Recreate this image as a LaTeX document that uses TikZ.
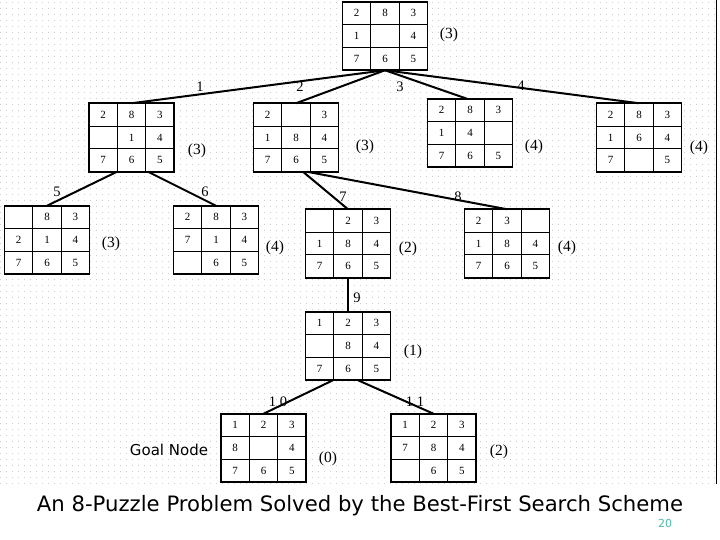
\documentclass[tikz,border=0pt]{standalone}
\usepackage{fontspec}
\setmainfont{Liberation Serif}
\newfontfamily\capfont{DejaVu Sans}
\usetikzlibrary{calc}
\definecolor{pagenum}{RGB}{70,190,170}
\newcommand\puz[4]{%
  \node[pbox] (#1) at (#2,#3) {};
  \draw[inner] ($(#1.north west)!1/3!(#1.north east)$) -- ($(#1.south west)!1/3!(#1.south east)$);
  \draw[inner] ($(#1.north west)!2/3!(#1.north east)$) -- ($(#1.south west)!2/3!(#1.south east)$);
  \draw[inner] ($(#1.north west)!1/3!(#1.south west)$) -- ($(#1.north east)!1/3!(#1.south east)$);
  \draw[inner] ($(#1.north west)!2/3!(#1.south west)$) -- ($(#1.north east)!2/3!(#1.south east)$);
  \foreach \v [count=\k from 0] in {#4} {
    \pgfmathtruncatemacro\rr{int(\k/3)}
    \pgfmathtruncatemacro\cc{mod(\k,3)}
    \node[num] (#1-\k) at ($(#1.north west)+({(\cc+0.5)*85/3},{(\rr+0.5)*68.5/3})$) {\v};
  }
}
\begin{document}
\begin{tikzpicture}[x=1pt,y=-1pt,
  pbox/.style={draw, fill=white, line width=1.7pt, minimum width=85pt, minimum height=68.5pt, inner sep=0pt, outer sep=0pt},
  inner/.style={line width=1pt},
  num/.style={font=\fontsize{11}{11}\selectfont, inner sep=0pt},
  edge/.style={line width=2pt},
  elab/.style={font=\fontsize{14.5}{14.5}\selectfont, inner sep=0pt},
  hlab/.style={font=\fontsize{15.5}{15.5}\selectfont, inner sep=0pt},
  dotrow/.style={gray!38, line width=1pt, dash pattern=on 1pt off 5pt}]
\useasboundingbox (0,0) rectangle (720,540);
\foreach \yy in {3,9,...,483} \draw[dotrow] (0,\yy) -- (716,\yy);
\draw[line width=1pt] (716,0) -- (716,484);
\puz{root}{385}{36}{2,8,3,1,,4,7,6,5}
\puz{A}{131.5}{137.5}{2,8,3,,1,4,7,6,5}
\puz{B}{296}{137.5}{2,,3,1,8,4,7,6,5}
\puz{C}{470}{133}{2,8,3,1,4,,7,6,5}
\puz{D}{639}{137.5}{2,8,3,1,6,4,7,,5}
\puz{E}{47}{240}{,8,3,2,1,4,7,6,5}
\puz{F}{216}{240}{2,8,3,7,1,4,,6,5}
\puz{G}{348}{243.5}{,2,3,1,8,4,7,6,5}
\puz{H}{507}{243.5}{2,3,,1,8,4,7,6,5}
\puz{I}{348}{346}{1,2,3,,8,4,7,6,5}
\puz{J}{263.5}{448}{1,2,3,8,,4,7,6,5}
\puz{K}{433.5}{448}{1,2,3,7,8,4,,6,5}
% edges
\draw[edge] (root.south) -- (A.north);
\draw[edge] (root.south) -- (B.north);
\draw[edge] (root.south) -- ($(C.north)+(-3,0)$);
\draw[edge] (root.south) -- (D.north);
\draw[edge] ($(A.south)+(-14.5,0)$) -- (E.north);
\draw[edge] ($(A.south)+(16.5,0)$) -- (F.north);
\draw[edge] ($(B.south)+(7,0)$) -- (G.north);
\draw[edge] ($(B.south)+(11,0)$) -- (H.north);
\draw[edge] (G.south) -- (I.north);
\draw[edge] ($(I.south)+(-15,0)$) -- (J.north);
\draw[edge] ($(I.south)+(10,0)$) -- (K.north);
% edge labels
\node[elab] (e1) at (200,87) {1};
\node[elab] (e2) at (300,87) {2};
\node[elab] (e3) at (400,87) {3};
\node[elab] (e4) at (521,86) {4};
\node[elab] (e5) at (57,192) {5};
\node[elab] (e6) at (205,192) {6};
\node[elab] (e7) at (343,197) {7};
\node[elab] (e8) at (458,197) {8};
\node[elab] (e9) at (357,298) {9};
\node[elab] (e10) at (278,402) {1\hspace{4pt}0};
\node[elab] (e11) at (415,402) {1\hspace{4pt}1};
% heuristic values
\node[hlab] (hroot) at (449,35) {(3)};
\node[hlab] (hA) at (197,151) {(3)};
\node[hlab] (hB) at (365,147) {(3)};
\node[hlab] (hC) at (534,147) {(4)};
\node[hlab] (hD) at (699,148) {(4)};
\node[hlab] (hE) at (111,244) {(3)};
\node[hlab] (hF) at (275,248) {(4)};
\node[hlab] (hG) at (408,249) {(2)};
\node[hlab] (hH) at (567,248) {(4)};
\node[hlab] (hI) at (413,352) {(1)};
\node[hlab] (hJ) at (328,459) {(0)};
\node[hlab] (hK) at (499,452) {(2)};
\node[font=\capfont\fontsize{15}{15}\selectfont, inner sep=0pt] (goal) at (169,450) {Goal Node};
\node[font=\capfont\fontsize{21.2}{21.2}\selectfont, inner sep=0pt, anchor=base] (title) at (360,511) {An 8-Puzzle Problem Solved by the Best-First Search Scheme};
\node[font=\capfont\fontsize{11}{11}\selectfont, text=pagenum, inner sep=0pt] (pg) at (665,523) {20};
\end{tikzpicture}
\end{document}
